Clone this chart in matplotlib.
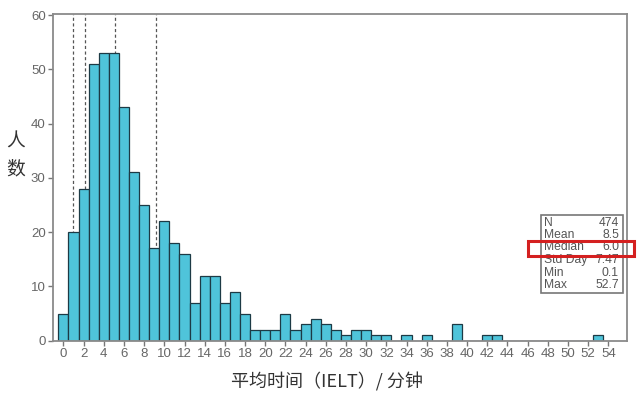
import matplotlib
matplotlib.use("Agg")
import matplotlib.pyplot as plt
from matplotlib.patches import Rectangle

# values (bins of width 1, centred on integers)
bin_centers = list(range(0, 54))
counts = [5, 20, 28, 51, 53, 53, 43, 31, 25, 17,
          22, 18, 16, 7, 12, 12, 7, 9, 5, 2,
          2, 2, 5, 2, 3, 4, 3, 2, 1, 2,
          2, 1, 1, 0, 1, 0, 1, 0, 0, 3,
          0, 0, 1, 1, 0, 0, 0, 0, 0, 0,
          0, 0, 0, 1]
ref_lines = [1.0, 2.1, 5.1, 9.2]
stat_names = ["N", "Mean", "Median", "Std Day", "Min", "Max"]
stat_values = ["474", "8.5", "6.0", "7.47", "0.1", "52.7"]
x_ticks = list(range(0, 55, 2))
y_ticks = list(range(0, 61, 10))

cjk = ["Noto Sans CJK SC", "DejaVu Sans"]
plt.rcParams["font.family"] = ["Liberation Sans", "DejaVu Sans"]

fig = plt.figure(figsize=(6.4, 3.98), dpi=100)
ax = fig.add_axes([0.0833, 0.144, 0.8957, 0.822])

for x in ref_lines:
    ax.axvline(x, color="#555555", linestyle=(0, (2.5, 2)), linewidth=0.9, zorder=1)

ax.bar(bin_centers, counts, width=1.0, color="#4fc4da", edgecolor="#1d3a45",
       linewidth=0.9, zorder=2)

ax.set_xlim(-1.0, 55.8)
ax.set_ylim(0, 60.3)
ax.set_xticks(x_ticks)
ax.set_yticks(y_ticks)
ax.tick_params(axis="both", colors="#777777", labelcolor="#666666", labelsize=9.5,
               length=3.5, width=1, pad=2)
for s in ax.spines.values():
    s.set_color("#8a8a8a")
    s.set_linewidth(1.3)

fig.text(327 / 640, 1 - 381.5 / 398, "平均时间（IELT）/ 分钟", family=cjk, fontsize=13,
         color="#333333", ha="center", va="center")
fig.text(0.025, 0.61, "人\n数", family=cjk, fontsize=13.5, color="#333333",
         ha="center", va="center", linespacing=1.4)

# summary box
bx0, bx1 = 540.7 / 640, 622.7 / 640
by0, by1 = 1 - 292.7 / 398, 1 - 215 / 398
fig.patches.append(Rectangle((bx0, by0), bx1 - bx0, by1 - by0, transform=fig.transFigure,
                             facecolor="white", edgecolor="#777777", linewidth=1.2,
                             zorder=5))
row_y = [222.7, 234.5, 247.5, 260.0, 272.7, 285.3]
for name, val, yy in zip(stat_names, stat_values, row_y):
    fig.text(544 / 640, 1 - yy / 398, name, fontsize=8.7, color="#555555",
             ha="left", va="center", zorder=6)
    fig.text(619 / 640, 1 - yy / 398, val, fontsize=8.7, color="#555555",
             ha="right", va="center", zorder=6)

fig.patches.append(Rectangle((527.5 / 640, 1 - 256 / 398), 106 / 640, 15.5 / 398,
                             transform=fig.transFigure, facecolor="none",
                             edgecolor="#d42020", linewidth=2.2, zorder=7))

fig.savefig("out.png", dpi=100)
